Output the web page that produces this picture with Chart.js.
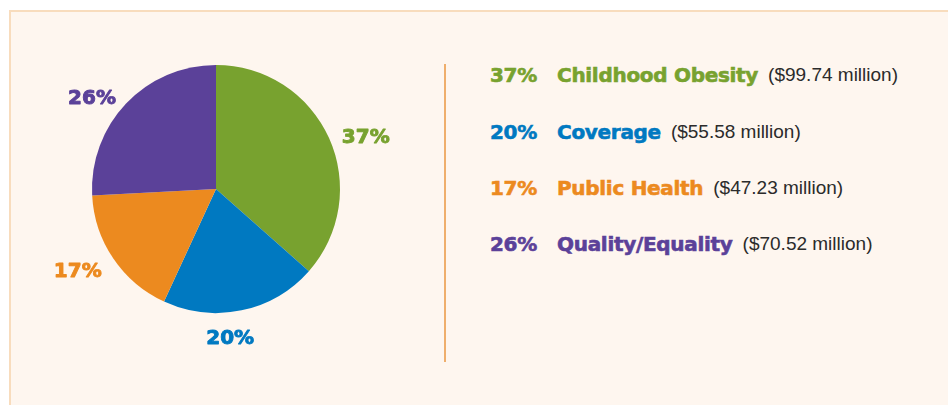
<!DOCTYPE html>
<html>
<head>
<meta charset="utf-8">
<script src="https://cdn.jsdelivr.net/npm/chart.js@4"></script>
<style>
  html, body { margin: 0; padding: 0; background: #ffffff; width: 948px; height: 405px; overflow: hidden; }
  #panel { position: absolute; left: 9px; top: 10px; width: 960px; height: 420px; background: #fef6ef; border-top: 2px solid #f8dcbd; border-left: 2px solid #f8dcbd; box-sizing: border-box; }
  #chartBox { position: absolute; left: 0; top: 0; width: 432px; height: 378px; }
  #divider { position: absolute; left: 444px; top: 64px; width: 1.5px; height: 298px; background: #efae6c; }
  #legend { position: absolute; left: 490px; top: 0; }
  .row { position: absolute; left: 0; white-space: nowrap; display: flex; align-items: center; height: 30px; }
  .pct { width: 67px; font-family: "DejaVu Sans", sans-serif; font-weight: bold; font-size: 20px; letter-spacing: -0.3px; -webkit-text-stroke: 0.6px currentColor; }
  .cat { font-family: "DejaVu Sans", sans-serif; font-weight: bold; font-size: 20px; letter-spacing: -0.3px; margin-right: 10px; -webkit-text-stroke: 0.6px currentColor; }
  .amt { font-family: "Liberation Sans", Arial, sans-serif; font-size: 19px; color: #2b2b2b; }
</style>
</head>
<body>
<div id="panel"></div>
<div id="divider"></div>
<div id="chartBox"><canvas id="c"></canvas></div>
<div id="legend"></div>
<script>
const categories = ["Childhood Obesity", "Coverage", "Public Health", "Quality/Equality"];
const amounts = [99.74, 55.58, 47.23, 70.52]; // $ million
const percentLabels = ["37%", "20%", "17%", "26%"];
const colors = ["#78a22f", "#0079c1", "#ec8a1f", "#5b4199"];

// legend (HTML text built from the arrays)
const legend = document.getElementById("legend");
const rowCenters = [75, 132, 188, 244];
categories.forEach((cat, i) => {
  const row = document.createElement("div");
  row.className = "row";
  row.style.top = (rowCenters[i] - 15) + "px";
  row.innerHTML = '<span class="pct" style="color:' + colors[i] + '">' + percentLabels[i] + '</span>' +
    '<span class="cat" style="color:' + colors[i] + '">' + cat + '</span>' +
    '<span class="amt">($' + amounts[i].toFixed(2) + ' million)</span>';
  legend.appendChild(row);
});

const outsideLabels = {
  id: "outsideLabels",
  afterDatasetsDraw(chart) {
    const ctx = chart.ctx;
    const meta = chart.getDatasetMeta(0);
    ctx.save();
    ctx.font = "bold 20px 'DejaVu Sans', sans-serif";
    ctx.lineWidth = 0.9;
    ctx.lineJoin = "round";
    meta.data.forEach((arc, i) => {
      const mid = (arc.startAngle + arc.endAngle) / 2;
      const d = arc.outerRadius + 14;
      const sx = Math.cos(mid), sy = Math.sin(mid);
      let x = arc.x + sx * d;
      let y = arc.y + sy * d + 5;
      let align, base = "middle";
      if (Math.abs(sy) > 0.9) {
        align = "center";
        base = sy > 0 ? "top" : "bottom";
        x = arc.x + sx * d * 0.5;
      } else {
        align = sx > 0 ? "left" : "right";
      }
      ctx.textAlign = align;
      ctx.textBaseline = base;
      ctx.fillStyle = colors[i];
      ctx.strokeStyle = colors[i];
      ctx.fillText(percentLabels[i], x, y);
      ctx.strokeText(percentLabels[i], x, y);
    });
    ctx.restore();
  }
};

new Chart(document.getElementById("c"), {
  type: "pie",
  data: {
    labels: categories,
    datasets: [{
      data: amounts,
      backgroundColor: colors,
      borderWidth: 0
    }]
  },
  options: {
    responsive: true,
    maintainAspectRatio: false,
    animation: false,
    layout: { padding: { left: 92, right: 92, top: 65, bottom: 65 } },
    plugins: { legend: { display: false }, tooltip: { enabled: false } }
  },
  plugins: [outsideLabels]
});
</script>
</body>
</html>
